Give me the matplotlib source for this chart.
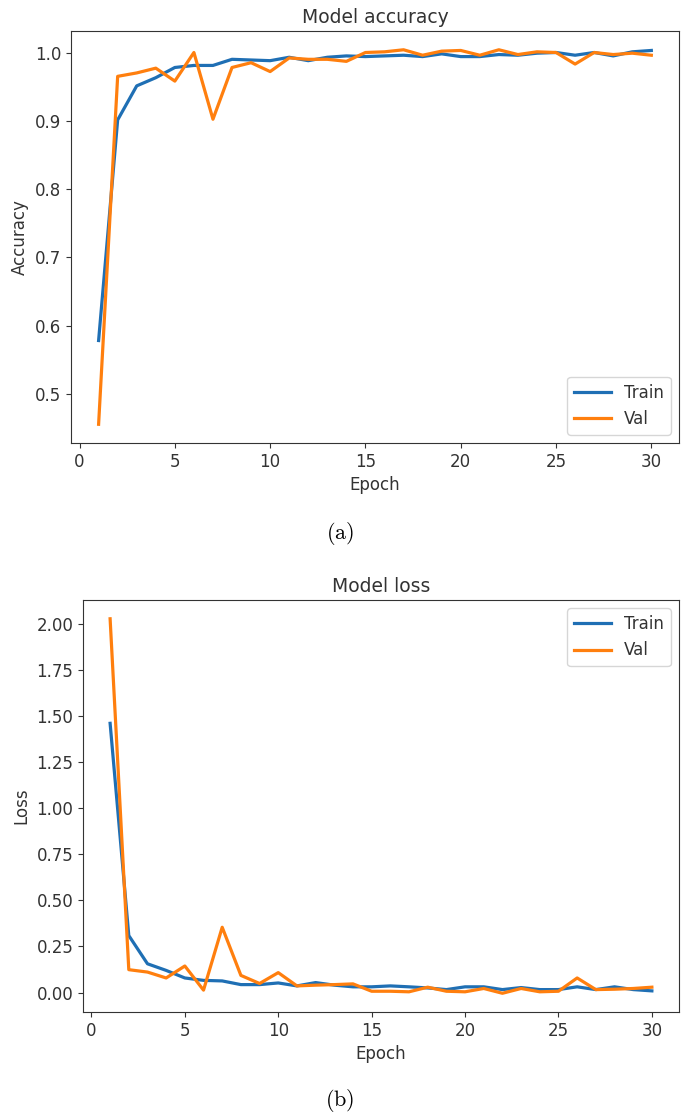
import matplotlib

matplotlib.use("Agg")
import matplotlib.pyplot as plt

epochs = list(range(1, 31))

train_acc = [0.578, 0.902, 0.952, 0.964, 0.979, 0.982, 0.982, 0.991, 0.990, 0.989,
             0.994, 0.989, 0.994, 0.996, 0.995, 0.996, 0.997, 0.995, 0.999, 0.995,
             0.995, 0.998, 0.997, 1.000, 1.001, 0.997, 1.001, 0.996, 1.002, 1.004]
val_acc = [0.455, 0.966, 0.971, 0.978, 0.959, 1.001, 0.903, 0.979, 0.986, 0.973,
           0.993, 0.991, 0.991, 0.988, 1.001, 1.002, 1.005, 0.997, 1.003, 1.004,
           0.997, 1.005, 0.998, 1.002, 1.001, 0.984, 1.001, 0.998, 1.000, 0.997]

train_loss = [1.46, 0.309, 0.156, 0.120, 0.079, 0.066, 0.063, 0.043, 0.043, 0.052,
              0.036, 0.054, 0.040, 0.031, 0.031, 0.036, 0.031, 0.025, 0.016, 0.031,
              0.031, 0.016, 0.027, 0.016, 0.016, 0.031, 0.016, 0.031, 0.016, 0.009]
val_loss = [2.027, 0.124, 0.111, 0.079, 0.144, 0.013, 0.354, 0.093, 0.049, 0.108,
            0.036, 0.040, 0.043, 0.047, 0.007, 0.007, 0.004, 0.029, 0.007, 0.004,
            0.022, -0.004, 0.022, 0.004, 0.007, 0.079, 0.016, 0.018, 0.022, 0.029]

plt.rcParams.update({
    "font.family": "DejaVu Sans",
    "font.size": 12,
    "mathtext.fontset": "cm",
    "axes.edgecolor": "#333333",
    "xtick.color": "#333333",
    "ytick.color": "#333333",
    "text.color": "#333333",
    "axes.labelcolor": "#333333",
})

fig = plt.figure(figsize=(6.85, 11.17), dpi=100)
ax1 = fig.add_axes([0.1036, 0.6034, 0.8876, 0.3688])
ax2 = fig.add_axes([0.1212, 0.0940, 0.8700, 0.3688])


def draw(ax, train, val, title, ylabel, loc):
    ax.plot(epochs, train, color="#1f6fb4", linewidth=2.3, label="Train")
    ax.plot(epochs, val, color="#ff7f0e", linewidth=2.3, label="Val")
    ax.set_title(title, fontsize=13.5, pad=6)
    ax.set_xlabel("Epoch", fontsize=12)
    ax.set_ylabel(ylabel, fontsize=12)
    ax.set_xticks([0, 5, 10, 15, 20, 25, 30])
    ax.legend(loc=loc, fontsize=12, handlelength=2.2)


draw(ax1, train_acc, val_acc, "Model accuracy", "Accuracy", "lower right")
draw(ax2, train_loss, val_loss, "Model loss", "Loss", "upper right")
ax2.set_yticks([0.0, 0.25, 0.5, 0.75, 1.0, 1.25, 1.5, 1.75, 2.0])
ax2.set_yticklabels([f"{v:.2f}" for v in ax2.get_yticks()])

fig.text(0.496, 1 - 533 / 1117, r"$\mathrm{(a)}$", ha="center", va="center", fontsize=16, color="black")
fig.text(0.496, 1 - 1100 / 1117, r"$\mathrm{(b)}$", ha="center", va="center", fontsize=16, color="black")

fig.savefig("out.png", dpi=100)
